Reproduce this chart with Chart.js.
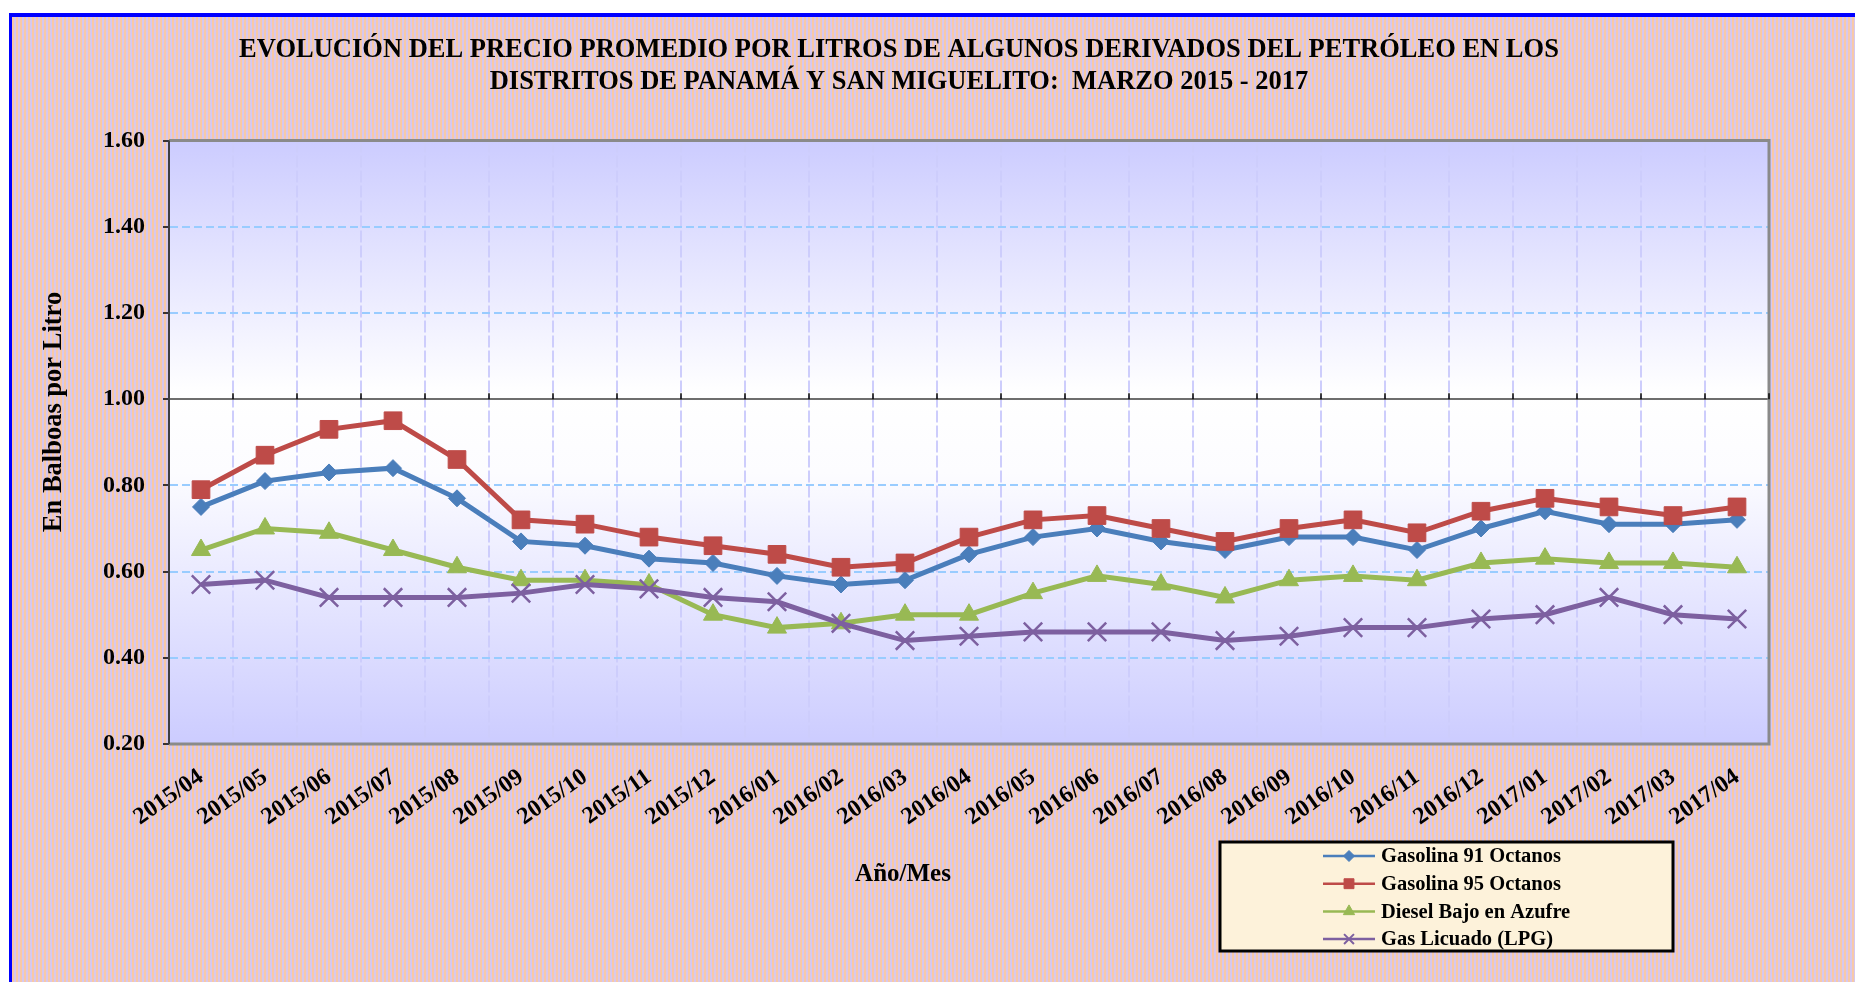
<!DOCTYPE html>
<html>
<head>
<meta charset="utf-8">
<title>Evolución del precio promedio por litros</title>
<script src="https://cdn.jsdelivr.net/npm/chart.js@4.4.1/dist/chart.umd.min.js"></script>
<style>
  html, body { margin: 0; padding: 0; background: #fff; overflow: hidden; }
  #wrap { position: relative; width: 1855px; height: 982px; overflow: hidden; }
  #frame {
    position: absolute; left: 9px; top: 13px; width: 1870px; height: 990px;
    border-left: 3px solid #0000ff; border-top: 4px solid #0000ff;
    background: repeating-linear-gradient(90deg, #f8c9a6 0px, #f8c9a6 2px, #d6c8ee 2px, #d6c8ee 4px);
  }
  canvas { position: absolute; left: 0; top: 0; }
</style>
</head>
<body>
<div id="wrap">
  <div id="frame"></div>
  <canvas id="fuelChart" width="1855" height="982"></canvas>
</div>
<script>
// Categories (Año/Mes)
const months = [
  '2015/04', '2015/05', '2015/06', '2015/07', '2015/08', '2015/09', '2015/10',
  '2015/11', '2015/12', '2016/01', '2016/02', '2016/03', '2016/04', '2016/05',
  '2016/06', '2016/07', '2016/08', '2016/09', '2016/10', '2016/11', '2016/12',
  '2017/01', '2017/02', '2017/03', '2017/04'
];

// Series values (balboas per litre)
const gasolina91 = [0.75, 0.81, 0.83, 0.84, 0.77, 0.67, 0.66, 0.63, 0.62, 0.59, 0.57, 0.58, 0.64,
  0.68, 0.70, 0.67, 0.65, 0.68, 0.68, 0.65, 0.70, 0.74, 0.71, 0.71, 0.72];
const gasolina95 = [0.79, 0.87, 0.93, 0.95, 0.86, 0.72, 0.71, 0.68, 0.66, 0.64, 0.61, 0.62, 0.68,
  0.72, 0.73, 0.70, 0.67, 0.70, 0.72, 0.69, 0.74, 0.77, 0.75, 0.73, 0.75];
const dieselBajoAzufre = [0.65, 0.70, 0.69, 0.65, 0.61, 0.58, 0.58, 0.57, 0.50, 0.47, 0.48, 0.50, 0.50,
  0.55, 0.59, 0.57, 0.54, 0.58, 0.59, 0.58, 0.62, 0.63, 0.62, 0.62, 0.61];
const gasLicuado = [0.57, 0.58, 0.54, 0.54, 0.54, 0.55, 0.57, 0.56, 0.54, 0.53, 0.48, 0.44, 0.45,
  0.46, 0.46, 0.46, 0.44, 0.45, 0.47, 0.47, 0.49, 0.50, 0.54, 0.50, 0.49];

// Y axis range / ticks
const yMin = 0.2;
const yMax = 1.6;
const yStep = 0.2;
const axisCross = 1.0;

const serif = "'Liberation Serif', 'Times New Roman', serif";

function isAt(v, target) {
  return Math.abs(v - target) < 1e-6;
}

// Plot area background gradient, under the grid
const plotBackground = {
  id: 'plotBackground',
  beforeDraw(chart) {
    const { ctx, chartArea: a } = chart;
    const g = ctx.createLinearGradient(0, a.top, 0, a.bottom);
    g.addColorStop(0, '#ccccff');
    g.addColorStop(0.42, '#ffffff');
    g.addColorStop(0.55, '#fcfcff');
    g.addColorStop(1, '#ccccff');
    ctx.save();
    ctx.fillStyle = g;
    ctx.fillRect(a.left, a.top, a.right - a.left, a.bottom - a.top);
    ctx.restore();
  }
};

// Plot frame, tick marks on the 1.00 crossing line, axis titles and legend box
const extras = {
  id: 'extras',
  afterDraw(chart) {
    const { ctx, chartArea: a, scales } = chart;
    const xs = scales.x;
    const ys = scales.y;
    ctx.save();

    // frame
    ctx.strokeStyle = '#8a8a8a';
    ctx.lineWidth = 3;
    ctx.beginPath();
    ctx.moveTo(a.left, a.top);
    ctx.lineTo(a.right, a.top);
    ctx.lineTo(a.right, a.bottom);
    ctx.lineTo(a.left, a.bottom);
    ctx.stroke();
    ctx.strokeStyle = '#404040';
    ctx.lineWidth = 2;
    ctx.beginPath();
    ctx.moveTo(a.left, a.top);
    ctx.lineTo(a.left, a.bottom);
    ctx.stroke();

    // category axis crosses at 1.00, tick marks between categories
    const yc = ys.getPixelForValue(axisCross);
    ctx.strokeStyle = '#000';
    ctx.lineWidth = 1.5;
    for (let i = 0; i < months.length; i++) {
      const xb = i < months.length - 1
        ? (xs.getPixelForValue(i) + xs.getPixelForValue(i + 1)) / 2
        : a.right;
      ctx.beginPath();
      ctx.moveTo(xb, yc);
      ctx.lineTo(xb, yc - 6);
      ctx.stroke();
    }

    // axis titles
    ctx.fillStyle = '#000';
    ctx.textAlign = 'center';
    ctx.textBaseline = 'middle';
    ctx.font = 'bold 25px ' + serif;
    ctx.fillText('Año/Mes', 903, 875);
    ctx.save();
    ctx.translate(54, 412);
    ctx.rotate(-Math.PI / 2);
    ctx.font = 'bold 26.5px ' + serif;
    ctx.fillText('En Balboas por Litro', 0, 0);
    ctx.restore();

    // legend
    const box = { x: 1220, y: 842, w: 453, h: 109 };
    ctx.fillStyle = '#fdf2da';
    ctx.fillRect(box.x, box.y, box.w, box.h);
    ctx.strokeStyle = '#000';
    ctx.lineWidth = 3;
    ctx.strokeRect(box.x, box.y, box.w, box.h);

    const legendRadius = [5.5, 7, 6.5, 7];
    ctx.font = 'bold 20.5px ' + serif;
    ctx.textAlign = 'left';
    chart.data.datasets.forEach((ds, i) => {
      const y = 856 + i * 27.7;
      ctx.strokeStyle = ds.borderColor;
      ctx.lineWidth = 2.5;
      ctx.beginPath();
      ctx.moveTo(1323, y);
      ctx.lineTo(1375, y);
      ctx.stroke();
      ctx.fillStyle = ds.borderColor;
      ctx.lineWidth = ds.pointStyle === 'crossRot' ? 2 : 1;
      Chart.helpers.drawPoint(ctx, {
        pointStyle: ds.pointStyle, rotation: 0, radius: legendRadius[i], borderWidth: ctx.lineWidth
      }, 1349, y);
      ctx.fillStyle = '#000';
      ctx.fillText(ds.label, 1381, y + 1);
    });

    ctx.restore();
  }
};

function lineSeries(label, data, color, pointStyle, radius, borderW, order) {
  return {
    label: label,
    data: data,
    borderColor: color,
    backgroundColor: color,
    borderWidth: 5,
    tension: 0,
    pointStyle: pointStyle,
    pointRadius: radius,
    pointHoverRadius: radius,
    pointBackgroundColor: color,
    pointBorderColor: color,
    pointBorderWidth: borderW,
    order: order
  };
}

const ctx = document.getElementById('fuelChart').getContext('2d');
new Chart(ctx, {
  type: 'line',
  data: {
    labels: months,
    datasets: [
      lineSeries('Gasolina 91 Octanos', gasolina91, '#4a7ebb', 'rectRot', 8.5, 1, 4),
      lineSeries('Gasolina 95 Octanos', gasolina95, '#be4b48', 'rect', 12.5, 1, 3),
      lineSeries('Diesel Bajo en Azufre', dieselBajoAzufre, '#98b954', 'triangle', 11, 1, 2),
      lineSeries('Gas Licuado (LPG)', gasLicuado, '#7d60a0', 'crossRot', 13, 2.5, 1)
    ]
  },
  options: {
    responsive: false,
    animation: false,
    devicePixelRatio: 1,
    layout: { padding: { left: 29, right: 86, top: 0, bottom: 0 } },
    plugins: {
      legend: { display: false },
      tooltip: { enabled: false },
      title: {
        display: true,
        text: [
          'EVOLUCIÓN DEL PRECIO PROMEDIO POR LITROS DE ALGUNOS DERIVADOS DEL PETRÓLEO EN LOS',
          'DISTRITOS DE PANAMÁ Y SAN MIGUELITO:  MARZO 2015 - 2017'
        ],
        color: '#000',
        font: { family: serif, size: 26.5, weight: 'bold', lineHeight: 1.18 },
        padding: { top: 35, bottom: 43 }
      }
    },
    scales: {
      x: {
        offset: true,
        grid: { offset: true, drawTicks: false, color: '#cdcdfc', lineWidth: 2 },
        border: { display: true, color: '#8a8a8a', width: 2, dash: [12, 3] },
        ticks: {
          autoSkip: false,
          minRotation: 35,
          maxRotation: 35,
          padding: 19,
          color: '#000',
          font: { family: serif, size: 24, weight: 'bold' }
        },
        afterFit: function (scale) { scale.height = 238; }
      },
      y: {
        min: yMin,
        max: yMax,
        ticks: {
          stepSize: yStep,
          padding: 18,
          color: '#000',
          font: { family: serif, size: 24, weight: 'bold' },
          callback: v => Number(v).toFixed(2)
        },
        grid: {
          color: c => {
            const v = c.tick ? c.tick.value : 0;
            if (isAt(v, axisCross)) return '#6e6e6e';
            if (isAt(v, yMin) || isAt(v, yMax)) return '#8a8a8a';
            return '#99ccff';
          },
          lineWidth: 2,
          drawTicks: true,
          tickLength: 6,
          tickColor: '#000',
          tickWidth: 1.5
        },
        border: {
          display: true,
          color: '#404040',
          width: 2,
          dash: c => {
            if (!c.tick) return [];
            const v = c.tick.value;
            return (isAt(v, axisCross) || isAt(v, yMin) || isAt(v, yMax)) ? [] : [8, 4];
          }
        },
        title: { display: false },
        afterFit: function (scale) { scale.width = 140; }
      }
    }
  },
  plugins: [plotBackground, extras]
});
</script>
</body>
</html>
